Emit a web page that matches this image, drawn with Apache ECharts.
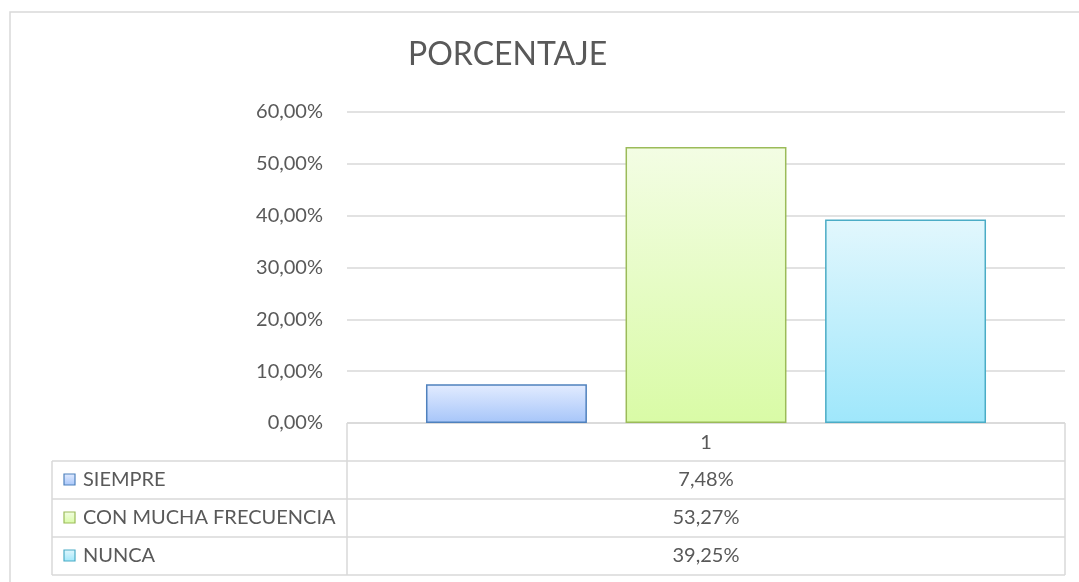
<!DOCTYPE html>
<html>
<head>
<meta charset="utf-8">
<script src="https://cdn.jsdelivr.net/npm/echarts@6/dist/echarts.min.js"></script>
<style>
  html, body { margin: 0; padding: 0; background: #fff; }
  #chart { width: 1079px; height: 582px; }
</style>
</head>
<body>
<div id="chart"></div>
<script>
// data
const categories = ['1'];
const seriesNames = ['SIEMPRE', 'CON MUCHA FRECUENCIA', 'NUNCA'];
const siempre = [0.0748];
const conMucha = [0.5327];
const nunca = [0.3925];
const seriesValues = [siempre, conMucha, nunca];
const yTicks = [0, 0.1, 0.2, 0.3, 0.4, 0.5, 0.6];

// Excel-like fills: [top, bottom, border]
const fills = [
  ['#e3ecff', '#a6c5f9', '#4f81bd'],
  ['#f3fde4', '#d9fba6', '#9bbb59'],
  ['#e2f7fd', '#9fe7fb', '#4bacc6'],
];

const FONT = 'Lato, "Open Sans", sans-serif';
const TXT = '#595959';
const LINE = '#d9d9d9';

// plot area / table layout
const gridLeft = 347, gridRight = 1065, gridTop = 112, gridBottom = 423;
const tableLeft = 52, rowH = 38;

const fmtPct = (v) => (v * 100).toFixed(2).replace('.', ',') + '%';

const chart = echarts.init(document.getElementById('chart'));

const grad = (f) => new echarts.graphic.LinearGradient(0, 0, 0, 1, [
  { offset: 0, color: f[0] },
  { offset: 1, color: f[1] },
]);

const series = seriesNames.map((name, i) => ({
  name: name,
  type: 'bar',
  data: seriesValues[i],
  barGap: '24%',
  barCategoryGap: '22%',
  itemStyle: { color: grad(fills[i]), borderColor: fills[i][2], borderWidth: 1.5 },
  emphasis: { disabled: true },
}));

// data table drawn under the plot
const graphics = [];
const line = (x1, y1, x2, y2) => graphics.push({
  type: 'line', silent: true,
  shape: { x1: x1, y1: y1, x2: x2, y2: y2 },
  style: { stroke: LINE, lineWidth: 1.5 },
});
// outer chart border
graphics.push({
  type: 'rect', silent: true,
  shape: { x: 10, y: 12, width: 1080, height: 600 },
  style: { fill: 'none', stroke: LINE, lineWidth: 1.5 },
});
const nRows = seriesNames.length;
const tableBottom = gridBottom + rowH * (nRows + 1);
line(gridLeft, gridBottom, gridRight, gridBottom);
for (let r = 1; r <= nRows + 1; r++) {
  line(tableLeft, gridBottom + rowH * r, gridRight, gridBottom + rowH * r);
}
line(gridLeft, gridBottom, gridLeft, tableBottom);
line(gridRight, gridBottom, gridRight, tableBottom);
line(tableLeft, gridBottom + rowH, tableLeft, tableBottom);

seriesNames.forEach((name, i) => {
  const cy = gridBottom + rowH * (i + 1) + rowH / 2;
  graphics.push({
    type: 'rect', silent: true,
    shape: { x: 64, y: cy - 6, width: 11, height: 11 },
    style: { fill: grad(fills[i]), stroke: fills[i][2], lineWidth: 1.2 },
  });
  graphics.push({
    type: 'text', silent: true,
    x: 83, y: cy,
    style: { text: name, fill: TXT, font: '20px ' + FONT, textVerticalAlign: 'middle' },
  });
  graphics.push({
    type: 'text', silent: true,
    x: (gridLeft + gridRight) / 2, y: cy,
    style: { text: fmtPct(seriesValues[i][0]), fill: TXT, font: '20px ' + FONT, textAlign: 'center', textVerticalAlign: 'middle' },
  });
});

chart.setOption({
  animation: false,
  title: {
    text: 'PORCENTAJE',
    left: 403,
    top: 34,
    textStyle: { color: TXT, fontFamily: FONT, fontSize: 32, fontWeight: 'normal' },
  },
  grid: { left: gridLeft, right: 1079 - gridRight, top: gridTop, bottom: 582 - gridBottom, containLabel: false },
  xAxis: {
    type: 'category',
    data: categories,
    axisLine: { show: false },
    axisTick: { show: false },
    axisLabel: { color: TXT, fontFamily: FONT, fontSize: 20, margin: 10 },
  },
  yAxis: {
    type: 'value',
    min: yTicks[0],
    max: yTicks[yTicks.length - 1],
    interval: yTicks[1] - yTicks[0],
    axisLine: { show: false },
    axisTick: { show: false },
    axisLabel: { color: TXT, fontFamily: FONT, fontSize: 20, margin: 24, formatter: fmtPct },
    splitLine: { lineStyle: { color: LINE, width: 1.5 } },
  },
  series: series,
  graphic: graphics,
});
</script>
</body>
</html>
